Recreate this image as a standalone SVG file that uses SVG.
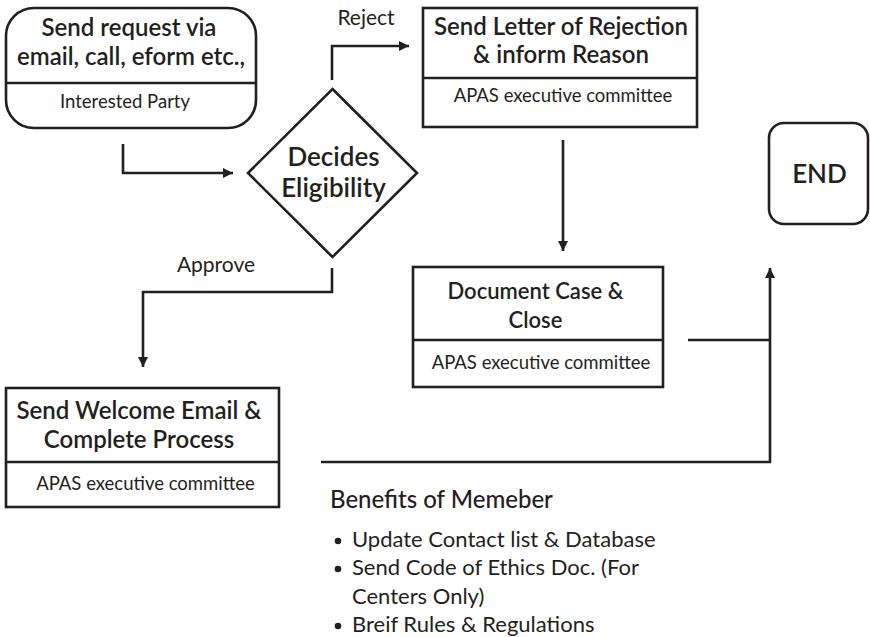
<svg xmlns="http://www.w3.org/2000/svg" width="870" height="637" viewBox="0 0 870 637">
<defs>
<style>
.s{fill:#fff;stroke:#231f20;stroke-width:2.6}
.c{fill:none;stroke:#231f20;stroke-width:2.6}
text{font-family:Lato,"Open Sans","Liberation Sans",sans-serif;fill:#231f20}
.t{font-size:24px;font-weight:600;text-anchor:middle}
.d{font-size:18.5px;text-anchor:middle}
.l{font-size:21px;text-anchor:middle}
.b{font-size:22px}
</style>
<marker id="a" viewBox="0 0 10 10" refX="10" refY="5" markerWidth="11" markerHeight="10" markerUnits="userSpaceOnUse" orient="auto"><path d="M0,0L10,5L0,10z" fill="#231f20"/></marker>
</defs>
<rect width="870" height="637" fill="#fff"/>
<g id="connectors">
<path class="c" d="M123,144V173H233" marker-end="url(#a)"/>
<path class="c" d="M332,80V46H409" marker-end="url(#a)"/>
<path class="c" d="M332,268V292H143V367" marker-end="url(#a)"/>
<path class="c" d="M563,140V251" marker-end="url(#a)"/>
<path class="c" d="M688,340H770"/>
<path class="c" d="M321,462H770V268" marker-end="url(#a)"/>
<text class="l" x="366" y="25">Reject</text>
<text class="l" x="216" y="272">Approve</text>
</g>
<g id="request">
<rect class="s" x="6" y="8" width="250" height="120" rx="28"/>
<line class="c" x1="6" y1="83" x2="256" y2="83"/>
<text class="t" x="129" y="36">Send request via</text>
<text class="t" x="131" y="65">email, call, eform etc.,</text>
<text class="d" x="125" y="108">Interested Party</text>
</g>
<g id="decision">
<polygon class="s" points="332.5,89 417,173 332.5,257 248,173"/>
<text class="t" x="333.5" y="166" style="font-size:26px">Decides</text>
<text class="t" x="333.5" y="197" style="font-size:26px">Eligibility</text>
</g>
<g id="rejection">
<rect class="s" x="423" y="8" width="274" height="119"/>
<line class="c" x1="423" y1="78" x2="697" y2="78"/>
<text class="t" x="561" y="35">Send Letter of Rejection</text>
<text class="t" x="561" y="63">&amp; inform Reason</text>
<text class="d" x="563" y="102">APAS executive committee</text>
</g>
<g id="document">
<rect class="s" x="413" y="267" width="250" height="120"/>
<line class="c" x1="413" y1="340" x2="663" y2="340"/>
<text class="t" x="535.5" y="299" style="font-size:22px">Document Case &amp;</text>
<text class="t" x="535.5" y="328" style="font-size:22px">Close</text>
<text class="d" x="541" y="369">APAS executive committee</text>
</g>
<g id="welcome">
<rect class="s" x="6" y="388" width="273" height="119"/>
<line class="c" x1="6" y1="462" x2="279" y2="462"/>
<text class="t" x="139" y="419">Send Welcome Email &amp;</text>
<text class="t" x="139" y="448">Complete Process</text>
<text class="d" x="145.5" y="490">APAS executive committee</text>
</g>
<g id="end">
<rect class="s" x="769" y="123" width="99" height="101" rx="15"/>
<text class="t" x="819.5" y="183" style="font-size:26px">END</text>
</g>
<g id="benefits">
<text x="330" y="508" style="font-size:24px;font-weight:500">Benefits of Memeber</text>
<circle cx="338" cy="541" r="3.3" fill="#231f20"/>
<circle cx="338" cy="569" r="3.3" fill="#231f20"/>
<circle cx="338" cy="626" r="3.3" fill="#231f20"/>
<text class="b" x="352" y="547">Update Contact list &amp; Database</text>
<text class="b" x="352" y="575">Send Code of Ethics Doc. (For</text>
<text class="b" x="352" y="604">Centers Only)</text>
<text class="b" x="352" y="632">Breif Rules &amp; Regulations</text>
</g>
</svg>
